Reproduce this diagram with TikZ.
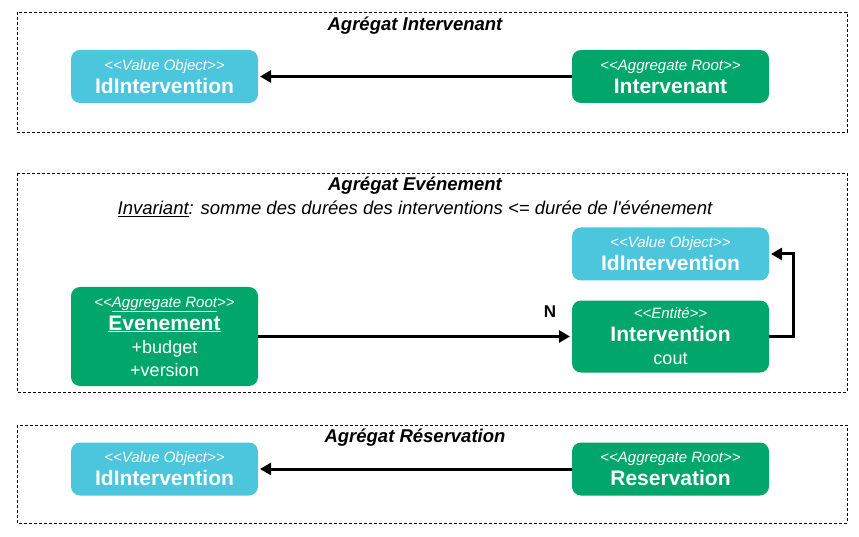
\documentclass[tikz,border=0pt]{standalone}
\usepackage{fontspec}
\usepackage{tikz}
\usetikzlibrary{arrows.meta,positioning}
\newfontfamily\arial{Liberation Sans}
\definecolor{bleuvo}{RGB}{75,198,220}
\definecolor{vertroot}{RGB}{0,166,106}
\newcommand{\stereo}[1]{{\fontsize{15}{23}\selectfont\mdseries\itshape <{}<#1>{}>}}
\newcommand{\attr}[1]{{\fontsize{18}{23}\selectfont\mdseries #1}}

\begin{document}
\begin{tikzpicture}[x=1pt,y=-1pt,->,>={Triangle[length=11pt,width=12pt]},shorten >=2pt,line width=3pt,
                    node distance=314pt,
                    boite/.style={rectangle,rounded corners=9pt,text=white,align=center,inner sep=0pt,outer sep=0pt,
                                  minimum width=187pt,font=\arial\fontsize{21}{23}\selectfont\bfseries},
                    vo/.style={boite,fill=bleuvo,minimum height=53pt},
                    root/.style={boite,fill=vertroot,minimum height=53pt,minimum width=197pt},
                    cadre/.style={-,draw,line width=0.8pt,dash pattern=on 3pt off 2pt},
                    titre/.style={font=\arial\fontsize{18.5}{20}\selectfont\bfseries\itshape}]
	\useasboundingbox (0,0) rectangle (859,537);

	\draw[cadre] (17,12) rectangle (847,132);
	\node[titre](tIntervenant) at (415,26) {Agrégat Intervenant};
	\node[vo](idA) at (164.5,76.5) {\stereo{Value Object}\\IdIntervention};
	\node[root](intervenant)[right=of idA] {\stereo{Aggregate Root}\\Intervenant};
	\draw (intervenant) -- (idA);

	\draw[cadre] (17,173) rectangle (847,392);
	\node[titre](tEvenement) at (415,186) {Agrégat Evénement};
	\node[font=\arial\fontsize{18.5}{20}\selectfont\itshape](invariant) at (415,209)
	 {\underline{Invariant}: somme des durées des interventions <= durée de l\textquotesingle événement};
	\node[root,minimum height=99pt,minimum width=187pt](evenement) at (164.5,336.5)
	 {\stereo{\underline{Aggregate Root}}\\\underline{Evenement}\\\attr{+budget}\\\attr{+version}};
	\node[root,minimum height=72pt](intervention)[right=of evenement] {\stereo{Entité}\\Intervention\\\attr{cout}};
	\node[vo,minimum width=197pt](idB)[above=20pt of intervention] {\stereo{Value Object}\\IdIntervention};
	\draw (evenement) -- node[pos=0.93,above=14pt,font=\arial\fontsize{17}{20}\selectfont\bfseries]{N} (intervention);
	\draw (intervention.east) -- ++(24,0) |- (idB.east);

	\draw[cadre] (17,425) rectangle (847,523);
	\node[titre](tReservation) at (415,438) {Agrégat Réservation};
	\node[vo](idC) at (164.5,469) {\stereo{Value Object}\\IdIntervention};
	\node[root](reservation)[right=of idC] {\stereo{Aggregate Root}\\Reservation};
	\draw (reservation) -- (idC);
\end{tikzpicture}
\end{document}
